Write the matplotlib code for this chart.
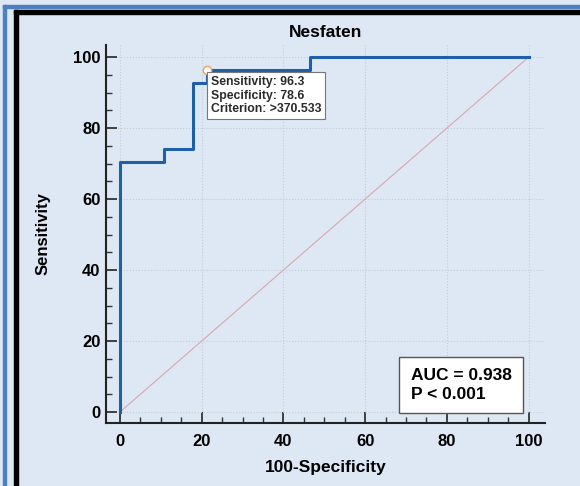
import matplotlib.pyplot as plt
from matplotlib.patches import Rectangle
from matplotlib.ticker import MultipleLocator

plt.rcParams['font.family'] = ['Liberation Sans', 'DejaVu Sans']

# ROC steps (100-Specificity, Sensitivity)
fpr = [0, 0, 10.7, 10.7, 17.9, 17.9, 21.4, 21.4, 46.4, 46.4, 100]
tpr = [0, 70.4, 70.4, 74.1, 74.1, 92.6, 92.6, 96.3, 96.3, 100, 100]
best_x, best_y = 21.4, 96.3
titulo = "Nesfaten"
info = "Sensitivity: 96.3\nSpecificity: 78.6\nCriterion: >370.533"
auc_txt = "AUC = 0.938\nP < 0.001"

fondo = '#dde8f4'
fig = plt.figure(figsize=(5.8, 4.86), dpi=100, facecolor=fondo)

# marcos de la figura
W, H = 580, 486
fig.patches.append(Rectangle((3 / W, 0), 3 / W, 1 - 5 / H, transform=fig.transFigure,
                             color='#4f7fbf', zorder=0))
fig.patches.append(Rectangle((3 / W, 1 - 8 / H), 1, 3 / H, transform=fig.transFigure,
                             color='#4f7fbf', zorder=0))
fig.patches.append(Rectangle((14 / W, 0), 4 / W, 1 - 10 / H, transform=fig.transFigure,
                             color='black', zorder=0))
fig.patches.append(Rectangle((14 / W, 1 - 14 / H), 1, 4 / H, transform=fig.transFigure,
                             color='black', zorder=0))

ax = fig.add_axes([0.1828, 0.1296, 0.7569, 0.7778])
ax.set_facecolor(fondo)
ax.set_xlim(-3.4, 104)
ax.set_ylim(-3.1, 103.4)

ax.plot([0, 100], [0, 100], color='#d7a7ae', lw=0.8, zorder=2)
ax.plot(fpr, tpr, color='#1f5fa8', lw=2.2, zorder=3)
ax.plot(best_x, best_y, 'o', mfc='white', mec='#f0a060', ms=6, mew=1, zorder=4)

ax.text(best_x + 0.9, best_y - 1.6, info, fontsize=8.8, fontweight='bold', color='#2a2a2a',
        va='top', ha='left', linespacing=1.2, zorder=5,
        bbox=dict(boxstyle='square,pad=0.3', fc='white', ec='#777777', lw=0.8))

ax.text(0.694, 0.1, auc_txt, transform=ax.transAxes, fontsize=12.5, fontweight='bold',
        va='center', ha='left', linespacing=1.3, zorder=5,
        bbox=dict(boxstyle='square,pad=0.65', fc='white', ec='#555555', lw=1))

for s in ['top', 'right']:
    ax.spines[s].set_visible(False)
for s in ['left', 'bottom']:
    ax.spines[s].set_linewidth(1.5)
    ax.spines[s].set_color('#222222')

ax.set_xticks([0, 20, 40, 60, 80, 100])
ax.set_yticks([0, 20, 40, 60, 80, 100])
ax.xaxis.set_minor_locator(MultipleLocator(5))
ax.yaxis.set_minor_locator(MultipleLocator(5))
ax.tick_params(which='major', direction='in', length=8, width=1.3, color='#333333',
               labelsize=12, pad=6)
ax.tick_params(which='minor', direction='in', length=4, width=1, color='#333333')
ax.tick_params(axis='y', which='major', pad=4)
ax.tick_params(axis='x', which='major', pad=8)
for lab in ax.get_xticklabels() + ax.get_yticklabels():
    lab.set_fontweight('bold')
ax.grid(True, which='major', color='#c5ccd4', ls=':', lw=0.8)

ax.set_title(titulo, fontsize=12.5, fontweight='bold', pad=6)
ax.set_xlabel("100-Specificity", fontsize=12.5, fontweight='bold', labelpad=8)
ax.set_ylabel("Sensitivity", fontsize=12, fontweight='bold', labelpad=16)

fig.savefig('out.png', dpi=100, facecolor=fondo)
